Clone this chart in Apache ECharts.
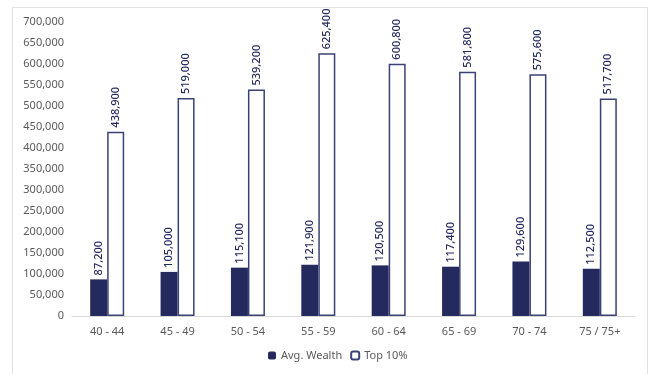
<!DOCTYPE html>
<html>
<head>
<meta charset="utf-8">
<script src="https://cdn.jsdelivr.net/npm/echarts@6/dist/echarts.min.js"></script>
<style>
html,body{margin:0;padding:0;background:#fff;}
#frame{position:absolute;left:12px;top:7px;width:636px;height:380px;border:1px solid #e2e2e2;box-sizing:border-box;}
#chart{position:absolute;left:0;top:0;width:661px;height:374px;}
</style>
</head>
<body>
<div id="frame"></div>
<div id="chart"></div>
<script>
var categories=['40 - 44','45 - 49','50 - 54','55 - 59','60 - 64','65 - 69','70 - 74','75 / 75+'];
var avgWealth=[87200,105000,115100,121900,120500,117400,129600,112500];
var top10=[438900,519000,539200,625400,600800,581800,575600,517700];

function fmt(v){
	return v.toString().replace(/\B(?=(\d{3})+(?!\d))/g, ',');
}

var labelStyle={
	show:true,
	position:'top',
	rotate:90,
	align:'left',
	verticalAlign:'middle',
	distance:4,
	color:'#252a5e',
	fontSize:11,
	fontWeight:500,
	fontFamily:'Noto Sans',
	formatter:function(p){return fmt(p.value);}
};

var option={
	animation:false,
	grid:{left:72,right:26,top:22,bottom:58},
	legend:{
		bottom:8,
		left:263,
		itemWidth:8,
		itemHeight:8,
		itemGap:8,
		textStyle:{color:'#595959',fontSize:11,fontFamily:'Noto Sans'},
		data:['Avg. Wealth','Top 10%']
	},
	xAxis:{
		type:'category',
		data:categories,
		axisLine:{lineStyle:{color:'#d9d9d9'}},
		axisTick:{show:false},
		axisLabel:{color:'#595959',fontSize:11,fontFamily:'Noto Sans',margin:10}
	},
	yAxis:{
		type:'value',
		min:0,
		max:700000,
		interval:50000,
		splitLine:{show:false},
		axisLine:{show:false},
		axisTick:{show:false},
		axisLabel:{color:'#595959',fontSize:11,fontFamily:'Noto Sans',margin:8,formatter:function(v){return fmt(v);}}
	},
	series:[
		{
			name:'Avg. Wealth',
			type:'bar',
			data:avgWealth,
			barWidth:17,
			barGap:'0%',
			itemStyle:{color:'#252a5e'},
			label:labelStyle
		},
		{
			name:'Top 10%',
			type:'bar',
			data:top10,
			barWidth:17,
			itemStyle:{color:'#ffffff',borderColor:'#3a4275',borderWidth:1.5},
			label:labelStyle
		}
	]
};

var myChart=echarts.init(document.getElementById('chart'));
myChart.setOption(option);
</script>
</body>
</html>
